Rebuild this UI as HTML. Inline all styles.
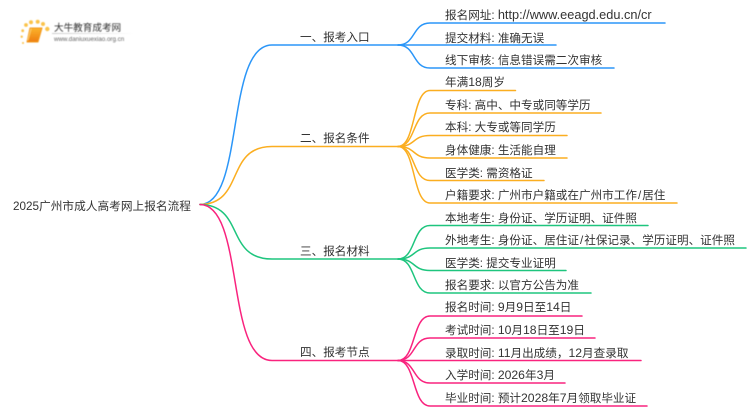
<!DOCTYPE html>
<html><head><meta charset="utf-8">
<style>
html,body{margin:0;padding:0;background:#fff;width:750px;height:410px;overflow:hidden}
svg{display:block}
text{font-family:"Liberation Sans","Noto Sans CJK SC",sans-serif;fill:#333;font-size:11.6px}
tspan.n{font-size:12.2px}
tspan.u{font-size:12.75px}
path{fill:none;stroke-width:1.5;stroke-linecap:round}
</style></head><body>
<svg width="750" height="410" viewBox="0 0 750 410">
<defs>
<filter id="b" x="-10%" y="-10%" width="120%" height="120%"><feGaussianBlur stdDeviation="0.4"/></filter>
<linearGradient id="bk" x1="0" y1="0" x2="0" y2="1"><stop offset="0" stop-color="#fbb32c"/><stop offset="1" stop-color="#ee7d10"/></linearGradient>
<linearGradient id="ln" x1="0" y1="0" x2="1" y2="0"><stop offset="0" stop-color="#ccc"/><stop offset="1" stop-color="#fff"/></linearGradient>
</defs>
<!-- logo -->
<g filter="url(#b)">
<path d="M30 28 H42 L38 42 H27 Z" style="fill:url(#bk);stroke:#f39a1c;stroke-width:1;stroke-linejoin:round"/>
<path d="M31 29 L28 40" style="stroke:#fcd06a;stroke-width:1"/>
<circle cx="26" cy="25" r="1.9" fill="#fbc34a"/><circle cx="31" cy="22.3" r="2" fill="#fbc34a"/><circle cx="37.7" cy="21.8" r="2" fill="#fbc34a"/><circle cx="43" cy="24" r="2" fill="#fbc34a"/><circle cx="47.3" cy="29" r="2.2" fill="#fbc34a"/>
<circle cx="22.7" cy="30.7" r="1.4" fill="#fbc34a"/><circle cx="21.7" cy="36.7" r="1.2" fill="#fbc34a"/><circle cx="23" cy="43" r="1" fill="#fbc34a"/>
<rect x="52" y="33" width="82" height="1" fill="url(#ln)"/>
<text x="54" y="31" style="font-size:9.6px;fill:#333">大牛教育成考网</text>
<text x="54" y="41" style="font-size:6.2px;fill:#666">www.daniuxuexiao.org.cn</text>
</g>

<!-- branches -->
<g>
<path stroke="#2b96f8" d="M200 204.5 C245 204 225 45 272 45 H398"/>
<path stroke="#2b96f8" d="M398 45 C416 45 412 23 430 23 H665"/>
<path stroke="#2b96f8" d="M398 45 H556"/>
<path stroke="#2b96f8" d="M398 45 C416 45 412 68 430 68 H614"/>
</g>
<g>
<path stroke="#fbae20" d="M200 204.5 C245 204 225 146.5 272 146.5 H398"/>
<path stroke="#fbae20" d="M398 146.5 C416 146.5 412 90.5 430 90.5 H515.5"/>
<path stroke="#fbae20" d="M398 146.5 C416 146.5 412 113 430 113 H601"/>
<path stroke="#fbae20" d="M398 146.5 C416 146.5 412 135.5 430 135.5 H567"/>
<path stroke="#fbae20" d="M398 146.5 C416 146.5 412 158 430 158 H567"/>
<path stroke="#fbae20" d="M398 146.5 C416 146.5 412 180.5 430 180.5 H544"/>
<path stroke="#fbae20" d="M398 146.5 C416 146.5 412 203 430 203 H677"/>
</g>
<g>
<path stroke="#1ec57e" d="M200 204.5 C245 205 225 259 272 259 H398"/>
<path stroke="#1ec57e" d="M398 259 C416 259 412 225.5 430 225.5 H648"/>
<path stroke="#1ec57e" d="M398 259 C416 259 412 248 430 248 H746"/>
<path stroke="#1ec57e" d="M398 259 C416 259 412 270.5 430 270.5 H566"/>
<path stroke="#1ec57e" d="M398 259 C416 259 412 293 430 293 H591"/>
</g>
<g>
<path stroke="#f9237e" d="M200 204.5 C245 205 225 360.5 272 360.5 H398"/>
<path stroke="#f9237e" d="M398 360.5 C416 360.5 412 316 430 316 H582"/>
<path stroke="#f9237e" d="M398 360.5 C416 360.5 412 338 430 338 H595"/>
<path stroke="#f9237e" d="M398 360.5 H641"/>
<path stroke="#f9237e" d="M398 360.5 C416 360.5 412 383 430 383 H565"/>
<path stroke="#f9237e" d="M398 360.5 C416 360.5 412 406 430 406 H647"/>
</g>

<!-- root + branch labels -->
<text x="13" y="210" textLength="178" lengthAdjust="spacingAndGlyphs">2025广州市成人高考网上报名流程</text>
<text x="300" y="41">一、报考入口</text>
<text x="300" y="142">二、报名条件</text>
<text x="300" y="255">三、报名材料</text>
<text x="300" y="356">四、报考节点</text>

<!-- leaves -->
<text x="445" y="19">报名网址: <tspan class="u">http://www.eeagd.edu.cn/cr</tspan></text>
<text x="445" y="42">提交材料: 准确无误</text>
<text x="445" y="64">线下审核: 信息错误需二次审核</text>
<text x="445" y="86">年满<tspan class="n">18</tspan>周岁</text>
<text x="445" y="109">专科: 高中、中专或同等学历</text>
<text x="445" y="131">本科: 大专或等同学历</text>
<text x="445" y="154">身体健康: 生活能自理</text>
<text x="445" y="177">医学类: 需资格证</text>
<text x="445" y="199">户籍要求: 广州市户籍或在广州市工作<tspan dx="1">/</tspan><tspan dx="1">居住</tspan></text>
<text x="445" y="222">本地考生: 身份证、学历证明、证件照</text>
<text x="445" y="244">外地考生: 身份证、居住证<tspan dx="1">/</tspan><tspan dx="1">社保记录、学历证明、证件照</tspan></text>
<text x="445" y="267">医学类: 提交专业证明</text>
<text x="445" y="289">报名要求: 以官方公告为准</text>
<text x="445" y="311">报名时间: <tspan class="n">9</tspan>月<tspan class="n">9</tspan>日至<tspan class="n">14</tspan>日</text>
<text x="445" y="334">考试时间: <tspan class="n">10</tspan>月<tspan class="n">18</tspan>日至<tspan class="n">19</tspan>日</text>
<text x="445" y="357">录取时间: <tspan class="n">11</tspan>月出成绩，<tspan class="n">12</tspan>月查录取</text>
<text x="445" y="379">入学时间: <tspan class="n">2026</tspan>年<tspan class="n">3</tspan>月</text>
<text x="445" y="402">毕业时间: 预计<tspan class="n">2028</tspan>年<tspan class="n">7</tspan>月领取毕业证</text>
</svg>
</body></html>
